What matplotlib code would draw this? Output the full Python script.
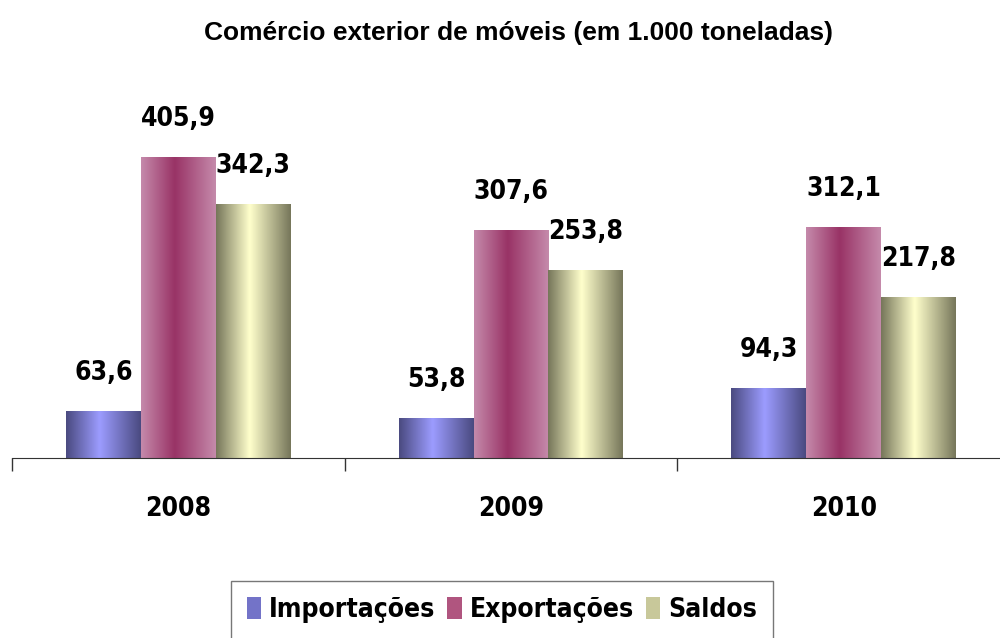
import numpy as np
import matplotlib
matplotlib.use('Agg')
import matplotlib.pyplot as plt
from matplotlib.colors import LinearSegmentedColormap
from matplotlib.patches import Patch

# dados
anos = ['2008', '2009', '2010']
series = ['Importações', 'Exportações', 'Saldos']
importacoes = [63.6, 53.8, 94.3]
exportacoes = [405.9, 307.6, 312.1]
saldos = [342.3, 253.8, 217.8]
rotulos_imp = ['63,6', '53,8', '94,3']
rotulos_exp = ['405,9', '307,6', '312,1']
rotulos_sal = ['342,3', '253,8', '217,8']

# cores borda -> centro (gradiente horizontal)
cores = [('#4a4a80', '#9c9cff'), ('#c58aab', '#993366'), ('#76765a', '#ffffcc')]
cores_legenda = ['#7373c8', '#b0557f', '#c8c89a']

# fonte estreita e negrito
estreita = dict(family='DejaVu Sans', stretch='condensed', weight='bold')

fig = plt.figure(figsize=(10, 6.38), dpi=100)
ax = fig.add_axes([0.012, 0.2821, 0.998, 0.6238])

x = np.arange(len(anos))
largura = 0.225
valores = [importacoes, exportacoes, saldos]
rotulos = [rotulos_imp, rotulos_exp, rotulos_sal]

t = np.linspace(0, 1, 256)
perfil = np.where(t < 0.45, t / 0.45, (1 - t) / 0.55)

for i, (vals, labs) in enumerate(zip(valores, rotulos)):
    cmap = LinearSegmentedColormap.from_list('g%d' % i, list(cores[i]))
    barras = ax.bar(x + (i - 1) * largura, vals, largura, color='none',
                    edgecolor='none', zorder=2)
    for b, lab in zip(barras, labs):
        x0, y0 = b.get_x(), b.get_y()
        w, h = b.get_width(), b.get_height()
        im = ax.imshow(perfil[np.newaxis, :], cmap=cmap, aspect='auto',
                       extent=[x0, x0 + w, y0, y0 + h], zorder=2,
                       interpolation='bicubic', vmin=0, vmax=1)
        im.set_clip_path(b)
        ax.annotate(lab, (x0 + w / 2, h), xytext=(0, 38),
                    textcoords='offset pixels', ha='center', va='center',
                    fontsize=19, **estreita)

ax.set_xlim(-0.5, 2.5)
ax.set_ylim(0, 398 / 0.7416)

ax.set_xticks(x)
ax.set_xticklabels(anos, fontsize=19, **estreita)
ax.tick_params(axis='x', which='major', length=0, pad=27)
ax.set_xticks([-0.5, 0.5, 1.5, 2.5], minor=True)
ax.tick_params(axis='x', which='minor', length=9, width=1, color='#333333')
ax.set_yticks([])
for s in ['left', 'right', 'top']:
    ax.spines[s].set_visible(False)
ax.spines['bottom'].set_color('#333333')

fig.text(0.519, 1 - 33 / 638, 'Comércio exterior de móveis (em 1.000 toneladas)',
         ha='center', va='center', fontsize=19, fontweight='bold',
         family=['Liberation Sans', 'DejaVu Sans'])

handles = [Patch(facecolor=c, edgecolor='none') for c in cores_legenda]
leg = fig.legend(handles, series, loc='upper center', ncol=3,
                 bbox_to_anchor=(0.502, 1 - 581 / 638), frameon=True,
                 fancybox=False, handlelength=0.55, handleheight=0.9,
                 handletextpad=0.3, columnspacing=0.45, borderpad=0.6,
                 borderaxespad=0, prop=dict(size=19, **estreita))
leg.get_frame().set_edgecolor('#555555')
leg.get_frame().set_linewidth(1)

fig.savefig('out.png', dpi=100)
